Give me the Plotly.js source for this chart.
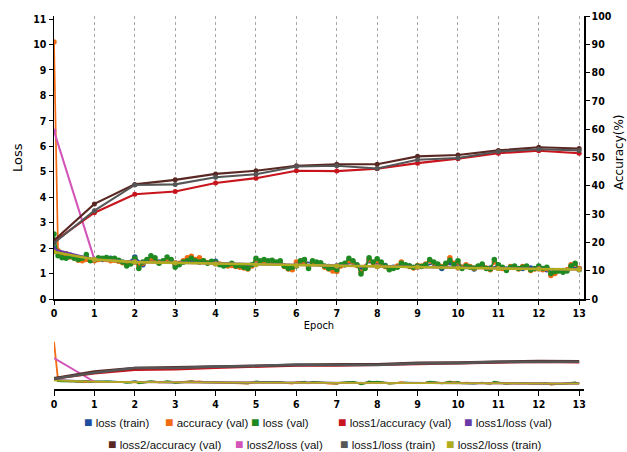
<!DOCTYPE html>
<html><head><meta charset="utf-8">
<script src="https://cdn.plot.ly/plotly-3.0.1.min.js"></script>
<style>html,body{margin:0;padding:0;background:#fff;}#chart{width:627px;height:452px;}</style>
</head><body><div id="chart"></div>
<script>
// ---- data ----
const epochs = [0,1,2,3,4,5,6,7,8,9,10,11,12,13];
const epochTicks = ['0','1','2','3','4','5','6','7','8','9','10','11','12','13'];
const lossTicks = [0,1,2,3,4,5,6,7,8,9,10,11];
const accTicks = [0,10,20,30,40,50,60,70,80,90,100];
// sample steps for the noisy per-batch series
const fineSteps = 131;   // 0.0 .. 13.0 every 0.1 epoch
const coarseSteps = 66;  // 0.0 .. 13.0 every 0.2 epoch

const lossValVals = [2.55,1.7,1.62,1.6,1.68,1.6,1.55,1.6,1.75,1.5,1.55,
  1.62,1.6,1.63,1.58,1.6,1.52,1.45,1.3,1.38,1.6,
  1.2,1.45,1.55,1.7,1.62,1.4,1.5,1.65,1.55,1.25,
  1.35,1.45,1.5,1.6,1.5,1.45,1.5,1.4,1.48,1.45,
  1.35,1.3,1.35,1.4,1.3,1.32,1.25,1.2,1.35,1.6,
  1.5,1.55,1.5,1.52,1.45,1.5,1.3,1.2,1.25,1.3,
  1.5,1.55,1.2,1.5,1.45,1.42,1.3,1.2,1.25,1.15,
  1.35,1.4,1.6,1.5,1.35,0.98,1.2,1.62,1.45,1.58,
  1.45,1.3,1.15,1.2,1.25,1.4,1.35,1.3,1.25,1.3,
  1.28,1.35,1.55,1.45,1.38,1.25,1.4,1.52,1.35,1.5,
  1.2,1.3,1.25,1.22,1.3,1.38,1.2,1.18,1.55,1.35,
  1.25,1.12,1.25,1.3,1.2,1.25,1.3,1.15,1.2,1.3,
  1.2,1.25,1.0,1.08,1.1,1.05,1.1,1.3,1.4,1.15];

const accuracyValVals = [10.1,1.9,1.75,1.78,1.65,1.62,1.52,1.5,1.55,1.52,1.5,
  1.55,1.58,1.55,1.5,1.52,1.48,1.42,1.35,1.4,1.45,
  1.3,1.4,1.5,1.6,1.55,1.42,1.48,1.55,1.5,1.35,
  1.4,1.5,1.62,1.68,1.55,1.62,1.5,1.42,1.45,1.4,
  1.38,1.35,1.3,1.32,1.28,1.25,1.22,1.18,1.3,1.5,
  1.45,1.48,1.45,1.5,1.42,1.4,1.28,1.18,1.15,1.45,
  1.48,1.45,1.28,1.42,1.4,1.38,1.25,1.18,1.1,1.08,
  1.3,1.35,1.5,1.45,1.32,1.05,1.25,1.55,1.42,1.5,
  1.4,1.28,1.18,1.22,1.3,1.45,1.32,1.28,1.22,1.32,
  1.3,1.38,1.5,1.42,1.35,1.28,1.38,1.62,1.4,1.45,
  1.25,1.35,1.28,1.2,1.28,1.32,1.22,1.15,1.45,1.3,
  1.2,1.15,1.28,1.25,1.18,1.28,1.25,1.12,1.18,1.25,
  1.15,1.2,0.92,1.0,1.12,1.08,1.15,1.35,1.38,1.2];

const lossTrainVals = [2.0,1.7,1.72,1.58,1.62,1.52,
  1.55,1.6,1.5,1.4,1.65,
  1.35,1.55,1.45,1.5,1.35,
  1.45,1.55,1.45,1.42,1.48,
  1.35,1.38,1.3,1.28,1.45,
  1.48,1.45,1.42,1.28,1.35,
  1.45,1.42,1.38,1.28,1.3,
  1.35,1.45,1.15,1.5,1.45,
  1.32,1.25,1.35,1.3,1.28,
  1.32,1.4,1.2,1.42,1.35,
  1.28,1.18,1.32,1.22,1.3,
  1.18,1.25,1.2,1.22,1.25,
  1.15,1.05,1.12,1.28,1.2];

const loss1AccVal  = [20.3,30.5,37.0,38.0,41.0,42.7,45.3,45.2,46.0,48.0,49.6,51.5,52.4,51.5];
const loss2AccVal  = [20.7,33.6,40.5,42.1,44.2,45.3,47.1,47.6,47.6,50.4,50.9,52.5,53.6,53.2];
const loss1LossTrain = [19.8,31.2,40.3,40.5,43.0,44.1,46.8,47.1,46.1,49.2,49.8,52.1,52.9,52.5];
const loss1LossVal = [1.95,1.55,1.47,1.43,1.4,1.37,1.34,1.31,1.28,1.26,1.23,1.21,1.19,1.17];
const loss2LossVal = [6.6,1.55,1.45,1.42,1.38,1.35,1.32,1.3,1.27,1.24,1.22,1.2,1.18,1.16];
const loss2LossTrain = [1.85,1.55,1.45,1.42,1.38,1.35,1.32,1.3,1.27,1.25,1.22,1.2,1.18,1.16];

const seriesNames = ['loss (train)','accuracy (val)','loss (val)','loss1/accuracy (val)','loss1/loss (val)',
  'loss2/accuracy (val)','loss2/loss (val)','loss1/loss (train)','loss2/loss (train)'];
const seriesColors = ['#1d4f9e','#f26a12','#1f8a22','#c8141c','#6a3aa6','#5a2823','#d455b8','#555555','#b0ac1e'];

// ---- build ----
const fineX = Array.from({length: fineSteps}, (_, i) => i / 10);
const coarseX = Array.from({length: coarseSteps}, (_, i) => i / 5);

const defs = [
  {x: coarseX, y: lossTrainVals, axis: 'loss', noisy: true},
  {x: fineX, y: accuracyValVals, axis: 'loss', noisy: true},
  {x: fineX, y: lossValVals, axis: 'loss', noisy: true},
  {x: epochs, y: loss1AccVal, axis: 'acc'},
  {x: epochs, y: loss1LossVal, axis: 'loss'},
  {x: epochs, y: loss2AccVal, axis: 'acc'},
  {x: epochs, y: loss2LossVal, axis: 'loss'},
  {x: epochs, y: loss1LossTrain, axis: 'acc'},
  {x: epochs, y: loss2LossTrain, axis: 'loss', thick: true}
];

const traces = [];
defs.forEach((d, i) => {
  traces.push({
    type: 'scatter', mode: 'lines+markers', name: seriesNames[i], showlegend: false,
    x: d.x, y: d.y, xaxis: 'x', yaxis: d.axis === 'acc' ? 'y2' : 'y',
    line: {color: seriesColors[i], width: d.noisy ? 1.7 : (d.thick ? 2.6 : 2.1)},
    marker: {color: seriesColors[i], size: d.noisy ? 5.5 : 5}
  });
});
defs.forEach((d, i) => {
  traces.push({
    type: 'scatter', mode: 'lines', name: seriesNames[i], showlegend: false,
    x: d.x, y: d.y, xaxis: 'x2', yaxis: d.axis === 'acc' ? 'y4' : 'y3',
    line: {color: seriesColors[i], width: d.axis === 'acc' ? 2.6 : 1.8}
  });
});

const tickFont = {family: 'DejaVu Sans Condensed, DejaVu Sans, sans-serif', size: 10.5, color: '#000', weight: 'bold'};
const xr = [0, 13.12];

// legend as annotations
const legendRows = [
  {y: 422, items: [[0, 82], [1, 163], [2, 249], [3, 336], [4, 462]]},
  {y: 444, items: [[5, 106], [6, 233], [7, 338], [8, 444]]}
];
const W = 627, H = 452, ml = 54, mr = 43, mt = 16, mb = 63;
const pw = W - ml - mr, ph = H - mt - mb;
const px = (x) => (x - ml) / pw;
const py = (y) => (H - mb - y) / ph;
const annotations = [];
legendRows.forEach(r => r.items.forEach(([idx, x]) => {
  annotations.push({
    xref: 'paper', yref: 'paper', x: px(x), y: py(r.y), xanchor: 'left', yanchor: 'middle',
    showarrow: false,
    text: '<span style="color:' + seriesColors[idx] + ';font-size:14px">■</span> ' + seriesNames[idx],
    font: {family: 'Liberation Sans, Arial, sans-serif', size: 11.5, color: '#111'}
  });
}));
annotations.push({xref: 'paper', yref: 'paper', x: px(17), y: py(158), xanchor: 'center', yanchor: 'middle',
  textangle: -90, showarrow: false,
  text: 'Loss', font: {family: 'DejaVu Sans, sans-serif', size: 13, color: '#000'}});
annotations.push({xref: 'paper', yref: 'paper', x: px(619), y: py(152), xanchor: 'center', yanchor: 'middle',
  textangle: -90, showarrow: false,
  text: 'Accuracy(%)', font: {family: 'DejaVu Sans, sans-serif', size: 12, color: '#000'}});

const layout = {
  width: W, height: H, margin: {l: ml, r: mr, t: mt, b: mb},
  paper_bgcolor: '#fff', plot_bgcolor: '#fff', showlegend: false,
  xaxis: {domain: [0, 1], anchor: 'y', range: xr, tickvals: epochs, ticktext: epochTicks,
    showgrid: true, gridcolor: '#a8a8a8', griddash: '3px,3px', gridwidth: 1, zeroline: false,
    showline: true, linecolor: '#000', linewidth: 1.5, ticks: 'outside', ticklen: 4, tickcolor: '#000',
    tickfont: tickFont,
    title: {text: 'Epoch', font: {family: 'DejaVu Sans Condensed, DejaVu Sans, sans-serif', size: 11, color: '#000'}, standoff: 2}},
  yaxis: {domain: [py(299), 1], anchor: 'x', range: [0, 11.12], tickvals: lossTicks,
    showgrid: false, zeroline: false, showline: true, linecolor: '#000', linewidth: 1.5,
    ticks: 'outside', ticklen: 4, tickcolor: '#000', tickfont: tickFont},
  yaxis2: {overlaying: 'y', side: 'right', anchor: 'x', range: [0, 100], tickvals: accTicks,
    showgrid: false, zeroline: false, showline: true, linecolor: '#000', linewidth: 1.5,
    ticks: 'outside', ticklen: 4, tickcolor: '#000', tickfont: tickFont},
  xaxis2: {domain: [0, 1], anchor: 'y3', range: xr, tickvals: epochs, ticktext: epochTicks,
    showgrid: false, zeroline: false, showline: true, linecolor: '#000', linewidth: 1.5,
    ticks: 'outside', ticklen: 5, tickcolor: '#000', tickfont: tickFont},
  yaxis3: {domain: [0, py(340)], anchor: 'x2', range: [0, 10.47], visible: false},
  yaxis4: {overlaying: 'y3', anchor: 'x2', range: [0, 94.2], visible: false},
  annotations: annotations
};

Plotly.newPlot('chart', traces, layout, {staticPlot: true, displayModeBar: false});
</script>
</body></html>
